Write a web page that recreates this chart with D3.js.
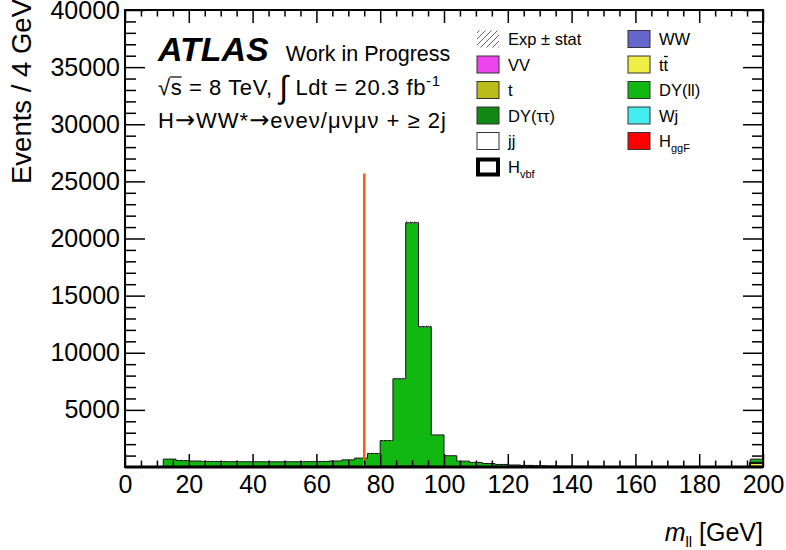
<!DOCTYPE html>
<html>
<head>
<meta charset="utf-8">
<script src="https://cdn.jsdelivr.net/npm/d3@7"></script>
<style>
  body { margin: 0; background: #fff; }
  svg { display: block; font-family: "Liberation Sans", Arial, Helvetica, sans-serif; }
</style>
</head>
<body>
<script>
// bin low edges (4 GeV bins), last bin holds overflow
const binLow = [0,4,8,12,16,20,24,28,32,36,40,44,48,52,56,60,64,68,72,76,80,84,88,92,96,
  100,104,108,112,116,120,124,128,132,136,140,144,148,152,156,160,164,168,172,176,180,184,188,192,196];
const binWidth = 4;

// stacked backgrounds, bottom to top
const hggf = [0,0,0,1,1,1,1,1,1,1,1,1,1,1,1,1,1,1,1,1,1,1,1,1,1,1,1,1,1,1,1,1,1,1,1,0,0,0,0,0,0,0,0,0,0,0,0,0,0,1];
const ww = [0,0,1,12,12,12,12,12,12,12,12,12,12,12,12,12,12,12,12,12,12,12,12,12,12,11,11,10,10,9,9,8,8,7,7,6,6,6,5,5,5,5,4,4,4,4,4,3,3,40];
const vv = [0,0,0,3,3,3,3,3,3,3,3,3,3,3,3,3,3,4,5,8,15,30,60,40,15,8,6,5,4,4,3,3,2,2,2,2,2,2,1,1,1,1,1,1,1,1,1,1,1,20];
const ttbar = [0,0,1,8,8,8,8,8,8,8,8,8,8,8,8,8,8,8,8,8,8,8,8,8,8,8,8,8,8,8,8,7,7,7,7,7,6,6,6,6,6,5,5,5,5,5,5,5,5,250];
const singleTop = [0,0,0,2,2,2,2,2,2,2,2,2,2,2,2,2,2,2,2,2,2,2,2,2,2,2,2,2,2,2,2,2,2,2,1,1,1,1,1,1,1,1,1,1,1,1,1,1,1,80];
const dytt = [0,0,0,10,15,20,25,30,35,40,45,45,45,40,35,30,25,20,15,12,10,8,6,5,4,3,2,2,1,1,1,1,1,1,1,0,0,0,0,0,0,0,0,0,0,0,0,0,0,5];
const wj = [0,0,0,3,3,3,3,3,3,3,3,3,3,3,3,3,3,3,3,3,3,3,3,3,3,3,3,2,2,2,2,2,2,2,2,2,1,1,1,1,1,1,1,1,1,1,1,1,1,10];
const jj = [0,0,0,1,1,1,1,1,1,1,1,1,1,1,1,1,1,1,1,1,1,1,1,1,1,1,1,1,1,1,1,1,1,1,1,1,1,1,1,1,1,1,1,1,1,1,1,1,1,2];
const dyll = [5,8,10,650,515,470,435,415,400,390,385,380,380,390,405,425,470,575,730,1140,2260,7660,21290,12210,2760,950,475,370,275,195,150,115,80,60,48,40,35,30,28,26,24,23,22,21,20,20,19,18,18,280];
// signal drawn as a line, not stacked
const hvbf = [0,0,0,2,2,2,2,2,2,2,2,2,2,2,2,2,2,2,3,3,4,5,6,5,4,3,3,3,3,3,3,3,3,3,2,2,2,2,2,2,2,2,2,2,1,1,1,1,1,3];
// stat error on the total expectation
const expErr = [5,5,6,26,24,23,22,22,22,21,21,21,21,21,22,22,23,25,28,34,48,88,146,111,53,31,23,20,17,15,13,11,10,9,8,7,7,6,6,6,6,6,5,5,5,5,5,5,5,26];

// mll cut line
const cutValue = 75;
const cutTop = 25700;

const xTicks = [0,20,40,60,80,100,120,140,160,180,200];
const yTicks = [5000,10000,15000,20000,25000,30000,35000,40000];

const stackKeys = ["hggf","ww","vv","ttbar","singleTop","dytt","wj","jj","dyll"];
const seriesData = {hggf, ww, vv, ttbar, singleTop, dytt, wj, jj, dyll};
const colors = {
  ww: "#6666cc", vv: "#ee44ee", ttbar: "#eeee44", singleTop: "#bbbb1a",
  dyll: "#12b812", dytt: "#118811", wj: "#44eeee", jj: "#ffffff", hggf: "#ff0000"
};

// legend (filled row by row, two columns)
const legendKeys = ["exp","ww","vv","ttbar","singleTop","dyll","dytt","wj","jj","hggf","hvbf"];

const W = 786, H = 550;
const margin = {left: 125, right: 23, top: 10, bottom: 83};

const svg = d3.select("body").append("svg").attr("width", W).attr("height", H);
svg.append("rect").attr("width", W).attr("height", H).attr("fill", "#fff");

const x = d3.scaleLinear().domain([0, 200]).range([margin.left, W - margin.right]);
const y = d3.scaleLinear().domain([0, 40000]).range([H - margin.bottom, margin.top]);

const defs = svg.append("defs");
const pat = defs.append("pattern").attr("id", "hatch").attr("patternUnits", "userSpaceOnUse")
  .attr("width", 4).attr("height", 4);
pat.append("path").attr("d", "M-1,1 l2,-2 M0,4 l4,-4 M3,5 l2,-2")
  .attr("stroke", "#777").attr("stroke-width", 0.9);
const pat2 = defs.append("pattern").attr("id", "hatchWide").attr("patternUnits", "userSpaceOnUse")
  .attr("width", 6).attr("height", 6);
pat2.append("path").attr("d", "M-1.5,1.5 l3,-3 M0,6 l6,-6 M4.5,7.5 l3,-3")
  .attr("stroke", "#666").attr("stroke-width", 1);

// build rows for d3.stack
const rows = binLow.map((lo, i) => {
  const r = {lo};
  stackKeys.forEach(k => r[k] = seriesData[k][i]);
  return r;
});
const stacked = d3.stack().keys(stackKeys)(rows);

const area = d3.area()
  .curve(d3.curveStepAfter)
  .x(d => x(d.lo))
  .y0(d => y(d.y0))
  .y1(d => y(d.y1));

const gHist = svg.append("g");
stacked.forEach(layer => {
  const pts = layer.map(d => ({lo: d.data.lo, y0: d[0], y1: d[1]}));
  const last = pts[pts.length - 1];
  pts.push({lo: last.lo + binWidth, y0: last.y0, y1: last.y1});
  gHist.append("path")
    .attr("d", area(pts))
    .attr("fill", colors[layer.key])
    .attr("stroke", "#111")
    .attr("stroke-width", 1);
});

// stat error hatch
const totals = rows.map(r => d3.sum(stackKeys, k => r[k]));
gHist.selectAll("rect.err").data(binLow).join("rect")
  .attr("class", "err")
  .attr("x", d => x(d))
  .attr("width", d => x(d + binWidth) - x(d))
  .attr("y", (d, i) => y(totals[i] + expErr[i]))
  .attr("height", (d, i) => y(totals[i] - expErr[i]) - y(totals[i] + expErr[i]))
  .attr("fill", "url(#hatch)");

// Hvbf signal line
const sigPts = binLow.map((lo, i) => ({lo, v: hvbf[i]}));
sigPts.push({lo: 200, v: hvbf[hvbf.length - 1]});
gHist.append("path")
  .attr("d", d3.line().curve(d3.curveStepAfter).x(d => x(d.lo)).y(d => y(d.v))(sigPts))
  .attr("fill", "none").attr("stroke", "#000").attr("stroke-width", 3);

// cut line
svg.append("line")
  .attr("x1", x(cutValue)).attr("x2", x(cutValue))
  .attr("y1", y(cutTop)).attr("y2", y(0))
  .attr("stroke", "#ff5a10").attr("stroke-width", 2.5);

// axes
const x0 = y(0), xTopY = margin.top;
const minorX = d3.range(0, 201, 5).filter(v => v % 20 !== 0);
const minorY = d3.range(0, 40001, 1000).filter(v => v % 5000 !== 0);

function styleAxis(g) {
  g.select(".domain").remove();
  g.selectAll("line").attr("stroke", "#000").attr("stroke-width", 1.5);
  g.selectAll("text").attr("font-size", 25).attr("fill", "#000")
    .attr("font-family", "'Liberation Sans', Arial, sans-serif");
}

svg.append("g").attr("transform", `translate(0,${x0})`)
  .call(d3.axisBottom(x).tickValues(xTicks).tickSizeInner(-13).tickSizeOuter(0).tickPadding(8))
  .call(styleAxis);
svg.append("g").attr("transform", `translate(0,${x0})`)
  .call(d3.axisBottom(x).tickValues(minorX).tickFormat("").tickSizeInner(-6.5).tickSizeOuter(0))
  .call(styleAxis);
svg.append("g").attr("transform", `translate(0,${xTopY})`)
  .call(d3.axisTop(x).tickValues(xTicks).tickFormat("").tickSizeInner(-13).tickSizeOuter(0))
  .call(styleAxis);
svg.append("g").attr("transform", `translate(0,${xTopY})`)
  .call(d3.axisTop(x).tickValues(minorX).tickFormat("").tickSizeInner(-6.5).tickSizeOuter(0))
  .call(styleAxis);

svg.append("g").attr("transform", `translate(${margin.left},0)`)
  .call(d3.axisLeft(y).tickValues(yTicks).tickFormat(d3.format("d"))
    .tickSizeInner(-20).tickSizeOuter(0).tickPadding(5))
  .call(styleAxis);
svg.append("g").attr("transform", `translate(${margin.left},0)`)
  .call(d3.axisLeft(y).tickValues(minorY).tickFormat("").tickSizeInner(-11).tickSizeOuter(0))
  .call(styleAxis);
svg.append("g").attr("transform", `translate(${W - margin.right},0)`)
  .call(d3.axisRight(y).tickValues(yTicks).tickFormat("").tickSizeInner(-20).tickSizeOuter(0))
  .call(styleAxis);
svg.append("g").attr("transform", `translate(${W - margin.right},0)`)
  .call(d3.axisRight(y).tickValues(minorY).tickFormat("").tickSizeInner(-11).tickSizeOuter(0))
  .call(styleAxis);

// frame
svg.append("rect")
  .attr("x", margin.left).attr("y", margin.top)
  .attr("width", W - margin.left - margin.right)
  .attr("height", H - margin.top - margin.bottom)
  .attr("fill", "none").attr("stroke", "#000").attr("stroke-width", 2);

// axis titles
svg.append("text")
  .attr("transform", "translate(31,-1) rotate(-90)")
  .attr("text-anchor", "end").attr("font-size", 27.5)
  .text("Events / 4 GeV");

const xt = svg.append("text").attr("x", W - margin.right).attr("y", 541)
  .attr("text-anchor", "end").attr("font-size", 25);
xt.append("tspan").attr("font-style", "italic").text("m");
xt.append("tspan").attr("font-size", 15).attr("dy", 6).text("ll");
xt.append("tspan").attr("dy", -6).text(" [GeV]");

// ATLAS label
const atl = svg.append("text").attr("x", 158).attr("y", 61);
atl.append("tspan").attr("font-weight", "bold").attr("font-style", "italic").attr("font-size", 34).text("ATLAS");
atl.append("tspan").attr("font-size", 21.5).attr("dx", 17).text("Work in Progress");

const l2 = svg.append("text").attr("x", 158).attr("y", 95).attr("font-size", 22)
  .attr("textLength", 282).attr("lengthAdjust", "spacing");
l2.append("tspan").text("√");
l2.append("tspan").text("s = 8 TeV, ");
l2.append("tspan").attr("font-size", 32).attr("dy", 3).text("∫");
l2.append("tspan").attr("dy", -3).text(" Ldt = 20.3 fb");
l2.append("tspan").attr("font-size", 15).attr("dy", -9).text("-1");
const sBox = l2.node().getExtentOfChar(1);
svg.append("line").attr("x1", sBox.x - 1).attr("x2", sBox.x + sBox.width)
  .attr("y1", 77).attr("y2", 77).attr("stroke", "#000").attr("stroke-width", 1.2);

const l3 = svg.append("text").attr("x", 158).attr("y", 128).attr("font-size", 22)
  .attr("textLength", 288).attr("lengthAdjust", "spacing");
const l3parts = [["H", 0], ["→", 1], ["WW*", 0], ["→", 1], ["eνeν/μνμν + ≥ 2j", 0]];
l3parts.forEach(([s, arrow]) => {
  const t = l3.append("tspan").text(s);
  if (arrow) t.attr("font-family", "'DejaVu Sans', sans-serif").attr("font-size", 24);
});

// legend
const legendText = {
  exp: "Exp ± stat", ww: "WW", vv: "VV", ttbar: "tt", singleTop: "t", dyll: "DY(ll)",
  dytt: "DY(ττ)", wj: "Wj", jj: "jj", hggf: "H", hvbf: "H"
};
const legendSub = {hggf: "ggF", hvbf: "vbf"};
const colX = [477, 628];
const rowY0 = 39, rowStep = 25.5;

legendKeys.forEach((k, i) => {
  const cx = colX[i % 2];
  const cy = rowY0 + Math.floor(i / 2) * rowStep;
  const g = svg.append("g");
  if (k === "exp") {
    g.append("rect").attr("x", cx).attr("y", cy - 8.5).attr("width", 22).attr("height", 17)
      .attr("fill", "url(#hatchWide)");
  } else if (k === "hvbf") {
    g.append("rect").attr("x", cx + 1).attr("y", cy - 7).attr("width", 20).attr("height", 15)
      .attr("fill", "#fff").attr("stroke", "#000").attr("stroke-width", 4);
  } else {
    g.append("rect").attr("x", cx).attr("y", cy - 8.5).attr("width", 22).attr("height", 17)
      .attr("fill", colors[k]).attr("stroke", "#333").attr("stroke-width", 1);
  }
  const t = g.append("text").attr("x", cx + 31).attr("y", cy + 6).attr("font-size", 16.5)
    .text(legendText[k]);
  if (legendSub[k]) {
    t.append("tspan").attr("font-size", 11).attr("dy", 5).text(legendSub[k]);
  }
  if (k === "ttbar") {
    const b = t.node().getExtentOfChar(1);
    g.append("line").attr("x1", b.x + 0.5).attr("x2", b.x + b.width - 0.5)
      .attr("y1", b.y + 1).attr("y2", b.y + 1).attr("stroke", "#000").attr("stroke-width", 1.3);
  }
});
</script>
</body>
</html>
